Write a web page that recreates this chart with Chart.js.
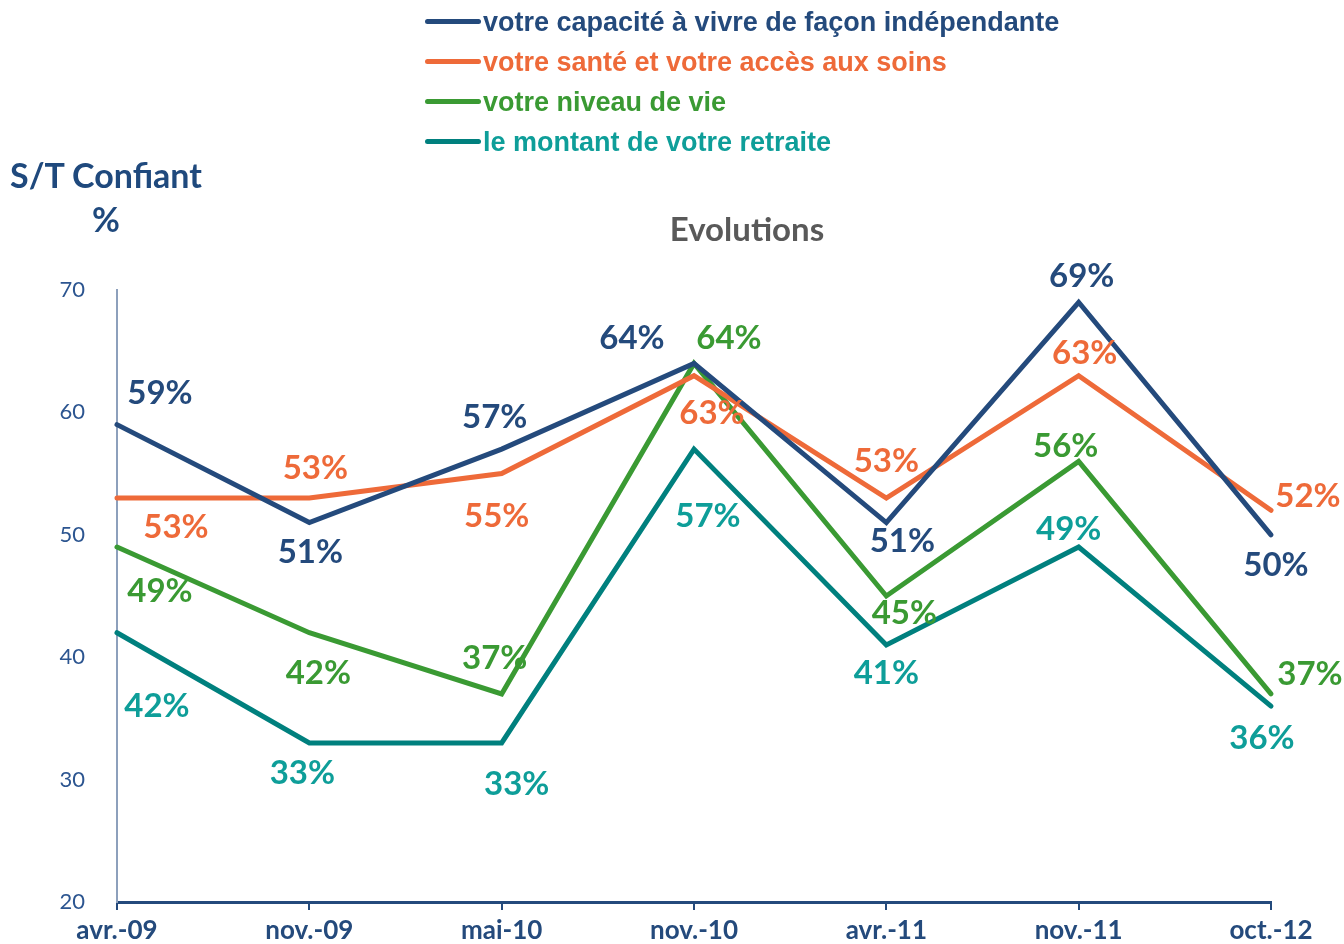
<!DOCTYPE html>
<html>
<head>
<meta charset="utf-8">
<script src="https://cdn.jsdelivr.net/npm/chart.js@4/dist/chart.umd.min.js"></script>
<style>
  html, body { margin: 0; padding: 0; background: #fff; }
  #wrap { position: relative; width: 1344px; height: 944px; }
  canvas { position: absolute; left: 0; top: 0; }
  .legend { position: absolute; left: 425px; top: 0; font-family: "Liberation Sans", Arial, sans-serif; font-weight: bold; font-size: 27px; }
  .legend div { height: 40px; line-height: 44px; white-space: nowrap; }
  .legend span.sw { display: inline-block; width: 56px; height: 5px; border-radius: 3px; vertical-align: middle; margin-right: 2px; position: relative; top: -2px; }
  .ytitle { position: absolute; font-family: Lato, sans-serif; font-weight: bold; color: #1F497D; font-size: 34px; }
  .title { position: absolute; left: 600px; width: 294px; text-align: center; top: 208px; font-family: Lato, sans-serif; font-weight: bold; color: #595959; font-size: 33px; }
</style>
</head>
<body>
<div id="wrap">
  <canvas id="chart" width="1344" height="944"></canvas>
  <div class="legend" id="legend"></div>
  <div class="ytitle" style="left:10px; top:154px;">S/T Confiant</div>
  <div class="ytitle" style="left:92px; top:198px;">%</div>
  <div class="title">Evolutions</div>
</div>
<script>
const labels = ['avr.-09', 'nov.-09', 'mai-10', 'nov.-10', 'avr.-11', 'nov.-11', 'oct.-12'];
const seriesNames = [
  'votre capacité à vivre de façon indépendante',
  'votre santé et votre accès aux soins',
  'votre niveau de vie',
  'le montant de votre retraite'
];
const independance = [59, 51, 57, 64, 51, 69, 50];
const sante = [53, 53, 55, 63, 53, 63, 52];
const niveauDeVie = [49, 42, 37, 64, 45, 56, 37];
const retraite = [42, 33, 33, 57, 41, 49, 36];

const lineColors = ['#244A7C', '#EE6A39', '#3A9A33', '#00807E'];
const textColors = ['#244A7C', '#EE6A39', '#3A9A33', '#0E9E99'];

// label offsets from each point (dx, dy), in pixels
const labelOffsets = [
  [[43, -31], [1, 30], [-7, -32], [-62, -25], [16, 19], [3, -26], [5, 31]],
  [[59, 29], [6, -30], [-5, 43], [18, 38], [0, -37], [6, -22], [37, -14]],
  [[43, 44], [9, 41], [-7, -36], [35, -25], [18, 17], [-13, -15], [39, -20]],
  [[40, 74], [-7, 30], [15, 41], [14, 67], [0, 28], [-10, -18], [-9, 32]]
];

const allSeries = [independance, sante, niveauDeVie, retraite];

// legend
const legendEl = document.getElementById('legend');
seriesNames.forEach((name, i) => {
  const row = document.createElement('div');
  row.style.color = textColors[i];
  row.innerHTML = '<span class="sw" style="background:' + lineColors[i] + '"></span>' + name;
  legendEl.appendChild(row);
});

const pointLabels = {
  id: 'pointLabels',
  afterDatasetsDraw(chart) {
    const ctx = chart.ctx;
    ctx.save();
    ctx.font = 'bold 33px Lato, sans-serif';
    ctx.textAlign = 'center';
    ctx.textBaseline = 'middle';
    chart.data.datasets.forEach((ds, i) => {
      const meta = chart.getDatasetMeta(i);
      ctx.fillStyle = textColors[i];
      meta.data.forEach((pt, j) => {
        const off = labelOffsets[i][j];
        ctx.fillText(ds.data[j] + '%', pt.x + off[0], pt.y + off[1]);
      });
    });
    ctx.restore();
  }
};

new Chart(document.getElementById('chart'), {
  type: 'line',
  data: {
    labels: labels,
    datasets: allSeries.map((data, i) => ({
      label: seriesNames[i],
      data: data,
      borderColor: lineColors[i],
      backgroundColor: lineColors[i],
      borderWidth: 5,
      borderCapStyle: 'round',
      borderJoinStyle: 'miter',
      pointRadius: 0,
      tension: 0,
      fill: false
    }))
  },
  options: {
    responsive: false,
    animation: false,
    clip: false,
    layout: { padding: { top: 290, right: 73, bottom: 0, left: 0 } },
    plugins: {
      legend: { display: false },
      title: { display: false },
      tooltip: { enabled: false }
    },
    scales: {
      x: {
        offset: false,
        grid: { display: true, drawOnChartArea: false, drawTicks: true, tickLength: 8, color: '#244A7C', lineWidth: 2 },
        border: { display: true, color: '#244A7C', width: 3 },
        ticks: { color: '#244A7C', font: { family: 'Lato, sans-serif', weight: 'bold', size: 26 }, padding: 5, maxRotation: 0, autoSkip: false },
        afterFit(scale) { scale.height = 42; }
      },
      y: {
        min: 20,
        max: 70,
        grid: { display: false },
        border: { display: true, color: '#8DA0BC', width: 2 },
        ticks: { stepSize: 10, color: '#2C5590', font: { family: 'Lato, sans-serif', size: 22 }, padding: 24 },
        afterFit(scale) { scale.width = 117; }
      }
    }
  },
  plugins: [pointLabels]
});
</script>
</body>
</html>
